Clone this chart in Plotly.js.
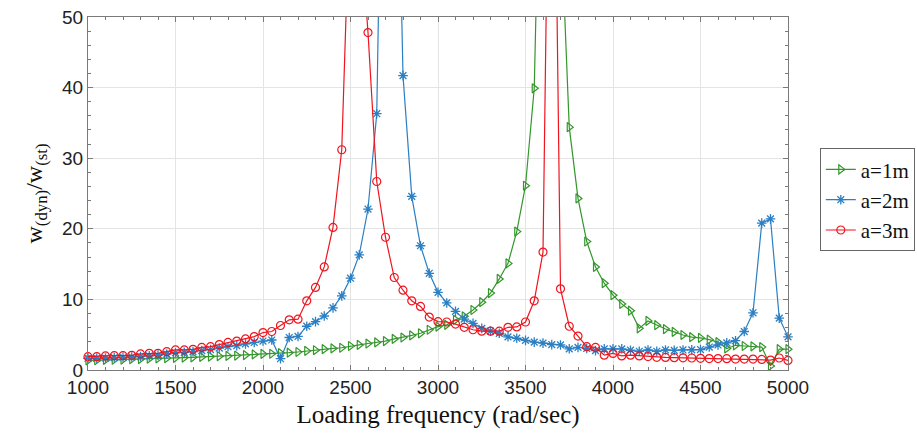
<!DOCTYPE html>
<html>
<head>
<meta charset="utf-8">
<script src="https://cdn.plot.ly/plotly-3.0.1.min.js"></script>
<style>html,body{margin:0;padding:0;background:#fff;}#chart{width:917px;height:436px;}</style>
</head>
<body>
<div id="chart"></div>
<script>
const freq = [1000,1050,1100,1150,1200,1250,1300,1350,1400,1450,1500,1550,1600,1650,1700,1750,1800,1850,1900,1950,
  2000,2050,2100,2150,2200,2250,2300,2350,2400,2450,2500,2550,2600,2650,2700,2750,2800,2850,2900,2950,
  3000,3050,3100,3150,3200,3250,3300,3350,3400,3450,3500,3550,3600,3650,3700,3750,3800,3850,3900,3950,
  4000,4050,4100,4150,4200,4250,4300,4350,4400,4450,4500,4550,4600,4650,4700,4750,4800,4850,4900,4950,5000];

const a1m = [1.35,1.38,1.42,1.45,1.48,1.52,1.55,1.6,1.64,1.68,1.72,1.76,1.8,1.85,1.9,1.95,2.0,2.05,2.12,2.2,
  2.27,2.3,2.4,2.45,2.55,2.7,2.8,2.95,3.05,3.15,3.4,3.55,3.75,3.9,4.1,4.4,4.6,4.9,5.2,5.7,
  6.15,6.4,7.1,7.6,8.5,9.6,10.9,12.9,15.1,19.6,26.1,39.9,90,150,65,34.4,24.3,18.2,14.6,12.3,
  10.6,9.36,8.4,5.9,6.95,6.35,5.8,5.4,4.96,4.65,4.55,4.3,3.95,3.05,3.5,3.4,3.35,3.25,0.57,2.95,2.95];

const a2m = [1.65,1.65,1.7,1.75,1.8,1.85,1.9,2.0,2.1,2.25,2.45,2.5,2.6,2.75,2.9,3.1,3.3,3.45,3.7,3.9,
  4.1,4.25,1.6,4.6,4.75,6.2,6.85,7.65,8.8,10.5,13.0,16.3,22.8,36.3,110,100,41.7,24.6,17.6,13.7,
  11.0,9.5,8.3,7.2,6.6,5.9,5.5,5.2,4.7,4.5,4.2,3.95,3.8,3.6,3.55,3.0,3.2,3.05,2.75,3.0,
  3.0,3.0,2.8,2.65,2.84,2.65,2.84,2.78,2.84,2.85,2.9,3.25,3.55,3.85,4.15,5.45,8.1,20.8,21.4,7.35,4.7];

const a3m = [1.89,1.89,1.99,2.03,2.03,2.08,2.27,2.36,2.36,2.6,2.84,2.84,2.93,3.2,3.3,3.6,3.9,4.1,4.4,4.73,
  5.3,5.45,6.3,7.1,7.2,9.8,11.7,14.6,20.2,31.2,70,65,47.8,26.7,18.8,13.1,11.3,9.8,9.0,7.5,
  6.85,6.8,6.5,6.05,5.7,5.5,5.5,5.5,6.05,6.1,6.8,9.8,16.7,110,11.5,6.2,4.8,3.3,3.2,2.1,
  2.35,2.0,2.1,2.0,1.9,1.8,1.78,1.75,1.72,1.7,1.65,1.62,1.62,1.6,1.55,1.55,1.55,1.5,1.4,1.7,1.35];

const seriesNames = ['a=1m','a=2m','a=3m'];
const xTicks = [1000,1500,2000,2500,3000,3500,4000,4500,5000];
const yTicks = [0,10,20,30,40,50];

const green = '#33962b', blue = '#2b7fc3', red = '#f0141e';

const traces = [
  {x: freq, y: a1m, name: seriesNames[0], type: 'scatter', mode: 'lines+markers', cliponaxis: false,
   line: {color: green, width: 1.2},
   marker: {symbol: 'triangle-right-open', size: 8, color: green, line: {color: green, width: 1.2}}},
  {x: freq, y: a2m, name: seriesNames[1], type: 'scatter', mode: 'lines+markers', cliponaxis: false,
   line: {color: blue, width: 1.2},
   marker: {symbol: 'asterisk-open', size: 8, color: blue, line: {color: blue, width: 1.3}}},
  {x: freq, y: a3m, name: seriesNames[2], type: 'scatter', mode: 'lines+markers', cliponaxis: false,
   line: {color: red, width: 1.2},
   marker: {symbol: 'circle-open', size: 8, color: red, line: {color: red, width: 1.2}}}
];

const axisCommon = {
  showline: true, linecolor: '#7a7a7a', linewidth: 1, mirror: 'allticks',
  ticks: 'inside', ticklen: 5, tickcolor: '#7a7a7a', tickwidth: 1,
  showgrid: true, gridcolor: '#e4e4e4', gridwidth: 1, zeroline: false,
  tickfont: {family: 'Liberation Sans, Arial, sans-serif', size: 19, color: '#222'}
};

const layout = {
  width: 917, height: 436,
  margin: {l: 88, r: 129, t: 17, b: 66},
  paper_bgcolor: '#fff', plot_bgcolor: '#fff',
  showlegend: true,
  xaxis: Object.assign({}, axisCommon, {
    range: [1000, 5000], tickvals: xTicks, ticktext: xTicks.map(String),
    minor: {dtick: 100, tick0: 1000, ticks: 'inside', ticklen: 3, tickcolor: '#7a7a7a', showgrid: false},
    title: {text: 'Loading frequency (rad/sec)', standoff: 8,
            font: {family: 'Liberation Serif, Times New Roman, serif', size: 25, color: '#111'}}
  }),
  yaxis: Object.assign({}, axisCommon, {
    range: [0, 50], tickvals: yTicks, ticktext: yTicks.map(String),
    minor: {dtick: 2, tick0: 0, ticks: 'inside', ticklen: 3, tickcolor: '#7a7a7a', showgrid: false},
    title: {text: 'w<sub>(dyn)</sub>/w<sub>(st)</sub>', standoff: 12,
            font: {family: 'Liberation Serif, Times New Roman, serif', size: 24, color: '#111'}}
  }),
  legend: {
    xref: 'container', yref: 'container',
    x: 0.894, y: 0.66, xanchor: 'left', yanchor: 'top',
    bgcolor: '#fff', bordercolor: '#666', borderwidth: 1,
    font: {family: 'Liberation Serif, Times New Roman, serif', size: 21, color: '#111'},
    tracegroupgap: 0, itemwidth: 30
  }
};

Plotly.newPlot('chart', traces, layout, {displayModeBar: false, staticPlot: true});
</script>
</body>
</html>
